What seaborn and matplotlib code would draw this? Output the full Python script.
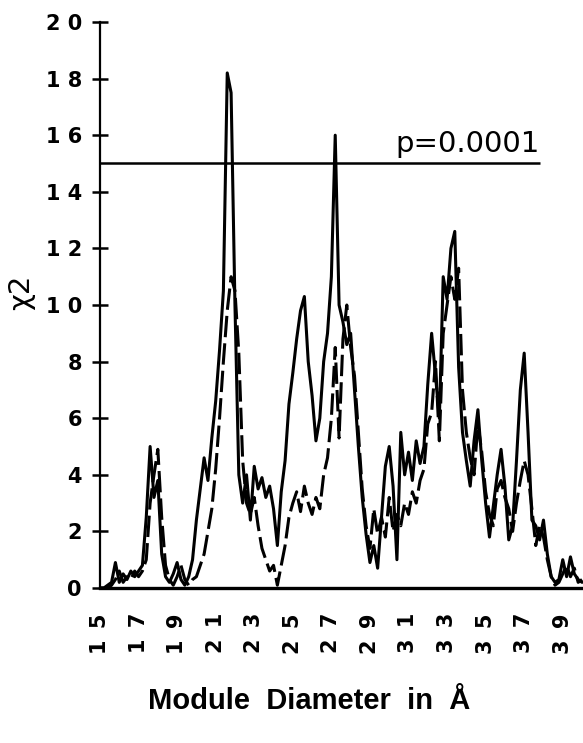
import numpy as np
import pandas as pd
import seaborn as sns
import matplotlib.pyplot as plt

# module diameter grid (Angstrom) and the two chi-square traces
diameter = np.round(np.arange(15.0, 40.01, 0.2), 1)

chi_solid = [
    0.0, 0.0, 0.1, 0.2, 0.9, 0.2, 0.5, 0.3, 0.6, 0.4,
    0.6, 0.8, 2.5, 5.0, 3.2, 3.8, 1.2, 0.4, 0.2, 0.5,
    0.9, 0.3, 0.1, 0.4, 1.0, 2.4, 3.5, 4.6, 3.8, 5.3,
    6.6, 8.4, 10.5, 18.2, 17.5, 10.0, 4.0, 3.0, 4.0, 2.4,
    4.3, 3.5, 3.9, 3.2, 3.6, 2.8, 1.5, 3.4, 4.5, 6.5,
    7.6, 8.8, 9.8, 10.3, 8.0, 6.8, 5.2, 6.0, 8.0, 9.0,
    11.0, 16.0, 10.0, 9.4, 8.6, 9.0, 7.0, 5.0, 3.2, 1.9,
    0.9, 1.5, 0.7, 2.5, 4.3, 5.0, 3.6, 1.0, 5.5, 4.0,
    4.8, 3.8, 5.2, 4.4, 5.0, 7.2, 9.0, 7.5, 6.0, 11.0,
    10.2, 12.0, 12.6, 7.8, 5.5, 4.5, 3.6, 5.2, 6.3, 4.5,
    3.0, 1.8, 2.9, 4.0, 4.9, 3.6, 1.7, 2.2, 4.5, 7.0,
    8.3, 5.5, 2.4, 2.2, 1.7, 2.4, 1.2, 0.4, 0.2, 0.3,
    1.0, 0.4, 1.1, 0.5, 0.3, 0.2,
]

chi_dashed = [
    0.0, 0.0, 0.0, 0.1, 0.3, 0.6, 0.2, 0.4, 0.3, 0.6,
    0.4, 0.6, 1.0, 3.0, 4.0, 4.9, 2.5, 0.8, 0.3, 0.1,
    0.4, 0.8, 0.3, 0.1, 0.3, 0.4, 0.8, 1.2, 2.0, 2.8,
    4.2, 6.0, 8.0, 9.8, 11.0, 10.5, 8.3, 4.5, 3.0, 2.6,
    3.2, 2.2, 1.4, 1.0, 0.6, 0.8, 0.1, 0.8, 1.5, 2.5,
    3.0, 3.4, 2.7, 3.6, 3.0, 2.6, 3.2, 2.8, 4.0, 4.6,
    6.0, 8.5, 5.3, 8.8, 10.0, 8.5, 7.5, 5.5, 3.5, 2.2,
    1.4, 2.8, 1.9, 2.5, 1.8, 3.2, 2.0, 2.6, 2.2, 3.0,
    2.6, 3.4, 3.0, 3.8, 4.2, 5.8, 6.2, 8.0, 5.2, 9.0,
    10.0, 11.0, 10.2, 11.3, 7.0, 5.5, 4.6, 4.0, 5.8, 4.8,
    3.4, 2.6, 2.2, 3.5, 3.8, 3.2, 2.8, 2.0, 3.0, 3.8,
    4.5, 4.0, 2.8, 1.5, 2.2, 1.8, 1.0, 0.4, 0.1, 0.2,
    0.5, 0.8, 0.4, 0.7, 0.2, 0.3,
]

x_ticks = [15, 17, 19, 21, 23, 25, 27, 29, 31, 33, 35, 37, 39]
y_ticks = [0, 2, 4, 6, 8, 10, 12, 14, 16, 18, 20]
# the original prints the digits letter-spaced
x_ticklabels = [" \u2009".join(str(v)) for v in x_ticks]
y_ticklabels = [" ".join(str(v)) for v in y_ticks]
p_level = 15
p_end = 37.8

df = pd.DataFrame({"diameter": diameter, "solid": chi_solid, "dashed": chi_dashed})

sns.set_style("white")
plt.rcParams["font.family"] = ["DejaVu Sans"]
plt.rcParams.update({"text.color": "black", "axes.labelcolor": "black",
                     "xtick.color": "black", "ytick.color": "black"})

fig = plt.figure(figsize=(5.83, 7.43), dpi=100)
ax = fig.add_axes([0.1715, 0.2086, 0.8285, 0.7618])

sns.lineplot(data=df, x="diameter", y="solid", ax=ax, color="black", lw=2.2)
sns.lineplot(data=df, x="diameter", y="dashed", ax=ax, color="black", lw=2.2,
             linestyle=(0, (7, 2)))
ax.hlines(p_level, 15, p_end, color="black", lw=1.8)
ax.text(p_end, p_level + 0.2, "p=0.0001", ha="right", va="bottom", fontsize=21,
        color="black")

ax.set_xlim(15, 40.05)
ax.set_ylim(0, 20)
ax.set_yticks(y_ticks)
ax.set_yticklabels(y_ticklabels, fontsize=15, fontweight="bold")
ax.set_xticks(x_ticks)
ax.set_xticklabels(x_ticklabels, fontsize=15, fontweight="bold", rotation=90)
ax.tick_params(axis="y", left=True, direction="inout", length=12, width=1.8, pad=7,
               colors="black")
ax.tick_params(axis="x", bottom=False, length=0, pad=18, colors="black")

for side in ["top", "right"]:
    ax.spines[side].set_visible(False)
ax.spines["left"].set_linewidth(1.6)
ax.spines["bottom"].set_linewidth(2.4)
for s in ["left", "bottom"]:
    ax.spines[s].set_color("black")

ax.set_xlabel("Module  Diameter  in  Å", fontsize=21, fontweight="bold",
              family="Liberation Sans", color="black")
ax.xaxis.set_label_coords(0.433, -0.175)
ax.set_ylabel("χ2", fontsize=21, color="black")
ax.yaxis.set_label_coords(-0.135, 0.523)

fig.savefig("out.png", dpi=100)
